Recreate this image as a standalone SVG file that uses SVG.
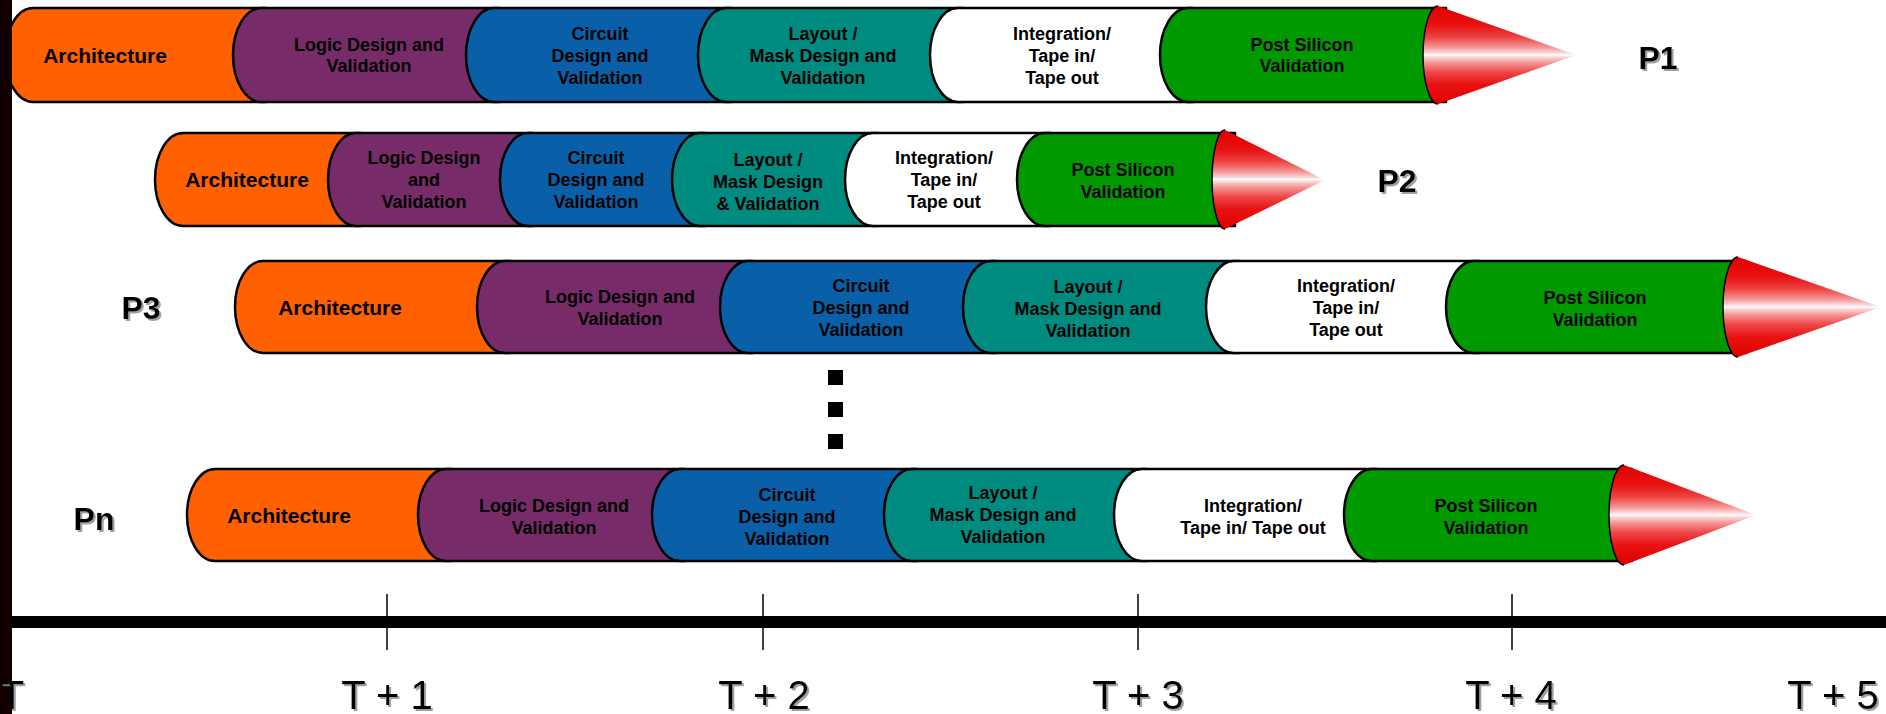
<svg xmlns="http://www.w3.org/2000/svg" width="1886" height="714" viewBox="0 0 1886 714">
  <defs>
    <style>
      .seg { stroke: #000; stroke-width: 2.5; stroke-linejoin: round; }
      .arch { fill: #FF6000; }
      .logic { fill: #772C69; }
      .circ { fill: #0A60A8; }
      .mask { fill: #008B80; }
      .integ { fill: #FFFFFF; }
      .post { fill: #009900; }
      .cone { fill: url(#coneShade); }
      .cone-base { fill: none; stroke: #000; stroke-width: 1.5; }
      .lbl { font-family: "Liberation Sans", Arial, Helvetica, sans-serif; font-weight: bold; font-size: 18px; text-anchor: middle; fill: #000; }
      .big { font-size: 21px; }
      .proc { font-family: "Liberation Sans", Arial, Helvetica, sans-serif; font-weight: bold; font-size: 32px; text-anchor: middle; fill: #000; filter: url(#softShadow); }
      .tick-lbl { font-family: "Liberation Sans", Arial, Helvetica, sans-serif; font-size: 40px; text-anchor: middle; fill: #000; filter: url(#softShadow); }
      .tick { stroke: #000; stroke-width: 1.5; }
    </style>
    <!-- banded red-to-white shading of the arrow tips -->
    <linearGradient id="coneShade" x1="0" y1="0" x2="0" y2="1">
      <stop offset="0" stop-color="#E00000"/>
      <stop offset="0.2" stop-color="#E81212"/>
      <stop offset="0.32" stop-color="#EE4444"/>
      <stop offset="0.42" stop-color="#F49494"/>
      <stop offset="0.48" stop-color="#FBDADA"/>
      <stop offset="0.5" stop-color="#FFFFFF"/>
      <stop offset="0.52" stop-color="#FBDADA"/>
      <stop offset="0.58" stop-color="#F49494"/>
      <stop offset="0.68" stop-color="#EE4444"/>
      <stop offset="0.8" stop-color="#E81212"/>
      <stop offset="1" stop-color="#E00000"/>
    </linearGradient>
    <filter id="softShadow" x="-10%" y="-10%" width="130%" height="130%">
      <feDropShadow dx="2" dy="2" stdDeviation="0.6" flood-color="#888" flood-opacity="0.8"/>
    </filter>
  </defs>

  <rect width="1886" height="714" fill="#FFFFFF"/>

  <!-- Process P1 -->
  <g id="p1">
    <g id="p1-architecture"><path class="seg arch" d="M33,8 H266 V102 H33 A28 47 0 0 1 33,8 Z"/><text class="lbl big" x="105" y="62.5">Architecture</text></g>
    <g id="p1-logic"><path class="seg logic" d="M261,8 H499 V102 H261 A28 47 0 0 1 261,8 Z"/><text class="lbl"><tspan x="369" y="51">Logic Design and</tspan><tspan x="369" y="72">Validation</tspan></text></g>
    <g id="p1-circuit"><path class="seg circ" d="M494,8 H731 V102 H494 A28 47 0 0 1 494,8 Z"/><text class="lbl"><tspan x="600" y="39.5">Circuit</tspan><tspan x="600" y="61.5">Design and</tspan><tspan x="600" y="83.5">Validation</tspan></text></g>
    <g id="p1-mask"><path class="seg mask" d="M726,8 H963 V102 H726 A28 47 0 0 1 726,8 Z"/><text class="lbl"><tspan x="823" y="39.5">Layout /</tspan><tspan x="823" y="61.5">Mask Design and</tspan><tspan x="823" y="83.5">Validation</tspan></text></g>
    <g id="p1-integration"><path class="seg integ" d="M958,8 H1193 V102 H958 A28 47 0 0 1 958,8 Z"/><text class="lbl"><tspan x="1062" y="39.5">Integration/</tspan><tspan x="1062" y="61.5">Tape in/</tspan><tspan x="1062" y="83.5">Tape out</tspan></text></g>
    <g id="p1-post"><path class="seg post" d="M1188,8 H1446 V102 H1188 A28 47 0 0 1 1188,8 Z"/><text class="lbl"><tspan x="1302" y="51">Post Silicon</tspan><tspan x="1302" y="72">Validation</tspan></text></g>
    <g id="p1-tip"><path class="cone" d="M1438,6 L1576,55 L1438,104 A15 49 0 0 1 1438,6 Z"/><path class="cone-base" d="M1438,104 A15 49 0 0 1 1438,6"/></g>
    <text id="p1-label" class="proc" x="1658" y="69">P1</text>
  </g>

  <!-- Process P2 -->
  <g id="p2">
    <g id="p2-architecture"><path class="seg arch" d="M183,133 H361 V226 H183 A28 46.5 0 0 1 183,133 Z"/><text class="lbl big" x="247" y="187">Architecture</text></g>
    <g id="p2-logic"><path class="seg logic" d="M356,133 H533 V226 H356 A28 46.5 0 0 1 356,133 Z"/><text class="lbl"><tspan x="424" y="164">Logic Design</tspan><tspan x="424" y="186">and</tspan><tspan x="424" y="208">Validation</tspan></text></g>
    <g id="p2-circuit"><path class="seg circ" d="M528,133 H705 V226 H528 A28 46.5 0 0 1 528,133 Z"/><text class="lbl"><tspan x="596" y="164">Circuit</tspan><tspan x="596" y="186">Design and</tspan><tspan x="596" y="208">Validation</tspan></text></g>
    <g id="p2-mask"><path class="seg mask" d="M700,133 H878 V226 H700 A28 46.5 0 0 1 700,133 Z"/><text class="lbl"><tspan x="768" y="166">Layout /</tspan><tspan x="768" y="188">Mask Design</tspan><tspan x="768" y="210">&amp; Validation</tspan></text></g>
    <g id="p2-integration"><path class="seg integ" d="M873,133 H1050 V226 H873 A28 46.5 0 0 1 873,133 Z"/><text class="lbl"><tspan x="944" y="164">Integration/</tspan><tspan x="944" y="186">Tape in/</tspan><tspan x="944" y="208">Tape out</tspan></text></g>
    <g id="p2-post"><path class="seg post" d="M1045,133 H1235 V226 H1045 A28 46.5 0 0 1 1045,133 Z"/><text class="lbl"><tspan x="1123" y="175.5">Post Silicon</tspan><tspan x="1123" y="197.5">Validation</tspan></text></g>
    <g id="p2-tip"><path class="cone" d="M1225,130 L1325,180 L1225,229 A13 49.5 0 0 1 1225,130 Z"/><path class="cone-base" d="M1225,229 A13 49.5 0 0 1 1225,130"/></g>
    <text id="p2-label" class="proc" x="1397" y="192">P2</text>
  </g>

  <!-- Process P3 -->
  <g id="p3">
    <text id="p3-label" class="proc" x="141" y="319">P3</text>
    <g id="p3-architecture"><path class="seg arch" d="M263,261 H510 V353 H263 A28 46 0 0 1 263,261 Z"/><text class="lbl big" x="340" y="314.5">Architecture</text></g>
    <g id="p3-logic"><path class="seg logic" d="M505,261 H753 V353 H505 A28 46 0 0 1 505,261 Z"/><text class="lbl"><tspan x="620" y="303">Logic Design and</tspan><tspan x="620" y="325">Validation</tspan></text></g>
    <g id="p3-circuit"><path class="seg circ" d="M748,261 H996 V353 H748 A28 46 0 0 1 748,261 Z"/><text class="lbl"><tspan x="861" y="291.5">Circuit</tspan><tspan x="861" y="313.5">Design and</tspan><tspan x="861" y="335.5">Validation</tspan></text></g>
    <g id="p3-mask"><path class="seg mask" d="M991,261 H1239 V353 H991 A28 46 0 0 1 991,261 Z"/><text class="lbl"><tspan x="1088" y="293">Layout /</tspan><tspan x="1088" y="315">Mask Design and</tspan><tspan x="1088" y="337">Validation</tspan></text></g>
    <g id="p3-integration"><path class="seg integ" d="M1234,261 H1479 V353 H1234 A28 46 0 0 1 1234,261 Z"/><text class="lbl"><tspan x="1346" y="292">Integration/</tspan><tspan x="1346" y="314">Tape in/</tspan><tspan x="1346" y="336">Tape out</tspan></text></g>
    <g id="p3-post"><path class="seg post" d="M1474,261 H1746 V353 H1474 A28 46 0 0 1 1474,261 Z"/><text class="lbl"><tspan x="1595" y="303.5">Post Silicon</tspan><tspan x="1595" y="325.5">Validation</tspan></text></g>
    <g id="p3-tip"><path class="cone" d="M1738,257 L1881,307 L1738,357 A15 50 0 0 1 1738,257 Z"/><path class="cone-base" d="M1738,357 A15 50 0 0 1 1738,257"/></g>
  </g>

  <!-- Ellipsis between P3 and Pn -->
  <g id="ellipsis" fill="#000">
    <rect x="828" y="370" width="15" height="15"/>
    <rect x="828" y="402" width="15" height="15"/>
    <rect x="828" y="434" width="15" height="15"/>
  </g>

  <!-- Process Pn -->
  <g id="pn">
    <text id="pn-label" class="proc" x="94" y="530">Pn</text>
    <g id="pn-architecture"><path class="seg arch" d="M215,469 H451 V561 H215 A28 46 0 0 1 215,469 Z"/><text class="lbl big" x="289" y="522.5">Architecture</text></g>
    <g id="pn-logic"><path class="seg logic" d="M446,469 H685 V561 H446 A28 46 0 0 1 446,469 Z"/><text class="lbl"><tspan x="554" y="511.5">Logic Design and</tspan><tspan x="554" y="533.5">Validation</tspan></text></g>
    <g id="pn-circuit"><path class="seg circ" d="M680,469 H917 V561 H680 A28 46 0 0 1 680,469 Z"/><text class="lbl"><tspan x="787" y="500.5">Circuit</tspan><tspan x="787" y="522.5">Design and</tspan><tspan x="787" y="544.5">Validation</tspan></text></g>
    <g id="pn-mask"><path class="seg mask" d="M912,469 H1147 V561 H912 A28 46 0 0 1 912,469 Z"/><text class="lbl"><tspan x="1003" y="498.5">Layout /</tspan><tspan x="1003" y="520.5">Mask Design and</tspan><tspan x="1003" y="542.5">Validation</tspan></text></g>
    <g id="pn-integration"><path class="seg integ" d="M1142,469 H1377 V561 H1142 A28 46 0 0 1 1142,469 Z"/><text class="lbl"><tspan x="1253" y="511.5">Integration/</tspan><tspan x="1253" y="533.5">Tape in/ Tape out</tspan></text></g>
    <g id="pn-post"><path class="seg post" d="M1372,469 H1632 V561 H1372 A28 46 0 0 1 1372,469 Z"/><text class="lbl"><tspan x="1486" y="511.5">Post Silicon</tspan><tspan x="1486" y="533.5">Validation</tspan></text></g>
    <g id="pn-tip"><path class="cone" d="M1624,465 L1756,515 L1624,565 A15 50 0 0 1 1624,465 Z"/><path class="cone-base" d="M1624,565 A15 50 0 0 1 1624,465"/></g>
  </g>

  <!-- Time axis -->
  <g id="timeline">
    <rect x="0" y="0" width="12" height="714" fill="#120000"/>
    <rect x="12" y="616" width="1874" height="12" fill="#000"/>
    <line class="tick" x1="387" y1="594" x2="387" y2="650"/>
    <line class="tick" x1="763" y1="594" x2="763" y2="650"/>
    <line class="tick" x1="1138" y1="594" x2="1138" y2="650"/>
    <line class="tick" x1="1512" y1="594" x2="1512" y2="650"/>
    <text class="tick-lbl" x="12" y="709">T</text>
    <text class="tick-lbl" x="387" y="709">T + 1</text>
    <text class="tick-lbl" x="764" y="709">T + 2</text>
    <text class="tick-lbl" x="1138" y="709">T + 3</text>
    <text class="tick-lbl" x="1511" y="709">T + 4</text>
    <text class="tick-lbl" x="1833" y="709">T + 5</text>
  </g>
</svg>
